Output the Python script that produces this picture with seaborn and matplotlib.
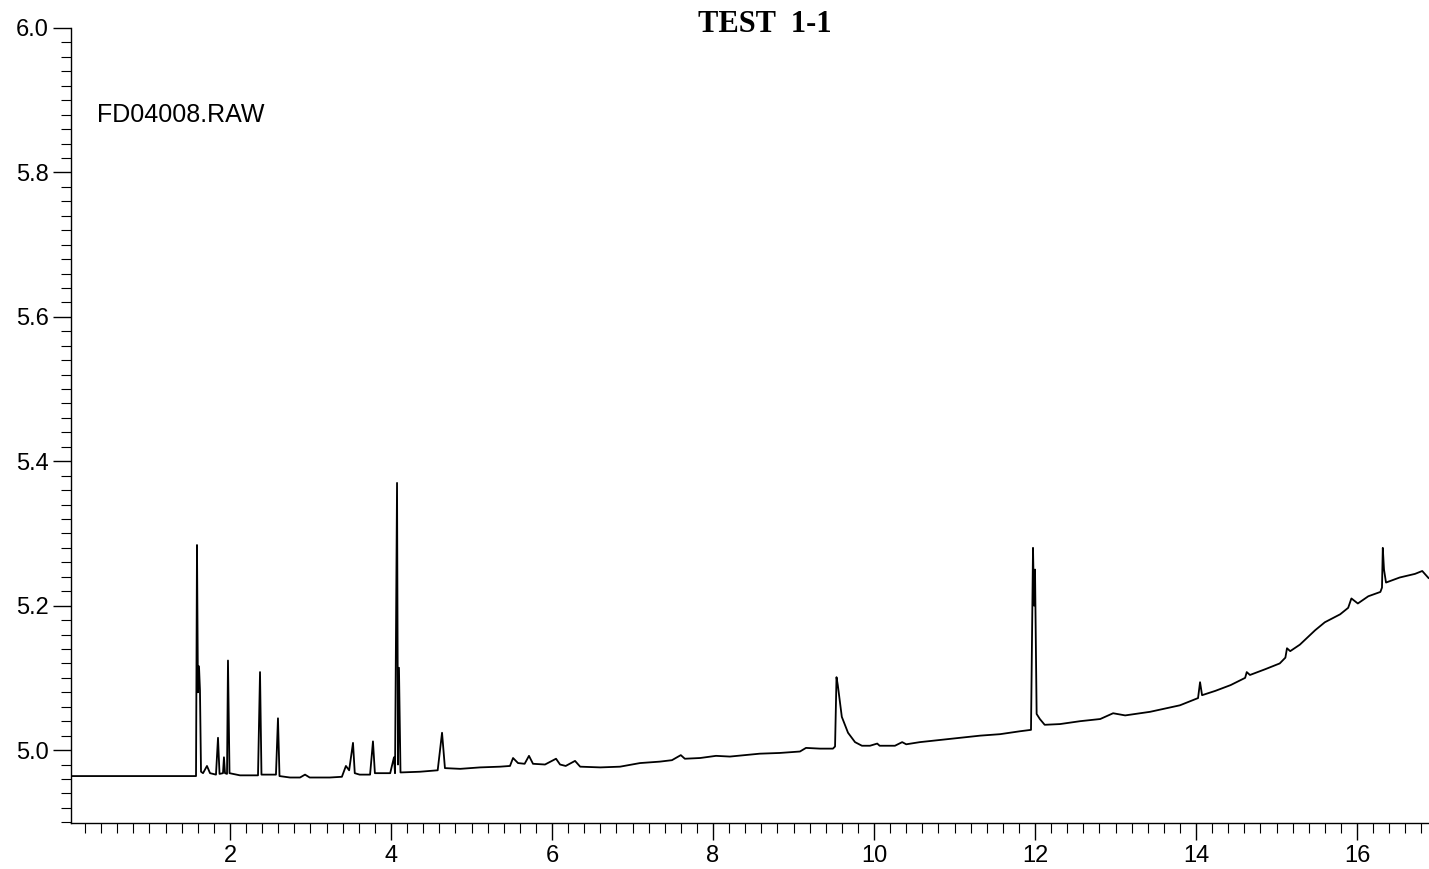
import matplotlib
matplotlib.use("Agg")
import matplotlib.pyplot as plt
from matplotlib.ticker import MultipleLocator, FixedLocator
import numpy as np
import pandas as pd
import seaborn as sns

# ---- data ----
retention_time = [
    0.04, 0.385, 1.006, 1.553, 1.578, 1.590, 1.602, 1.615, 1.627, 1.640, 1.665,
    1.714, 1.752, 1.826, 1.851, 1.870, 1.913, 1.925, 1.938, 1.963, 1.975, 1.994,
    2.124, 2.348, 2.373, 2.391, 2.571, 2.596, 2.615, 2.745, 2.870, 2.932, 2.990,
    3.240, 3.390, 3.440, 3.480, 3.528, 3.550, 3.610, 3.740, 3.776, 3.800, 3.990,
    4.037, 4.050, 4.075, 4.087, 4.099, 4.118, 4.360, 4.580, 4.634, 4.670, 4.860,
    5.106, 5.354, 5.478, 5.516, 5.578, 5.660, 5.714, 5.764, 5.913, 6.050, 6.100,
    6.170, 6.286, 6.350, 6.600, 6.845, 7.093, 7.340, 7.490, 7.600, 7.650, 7.840,
    8.037, 8.210, 8.400, 8.580, 8.830, 9.080, 9.155, 9.330, 9.490, 9.516, 9.534,
    9.550, 9.600, 9.677, 9.764, 9.850, 9.950, 10.040, 10.070, 10.260, 10.350,
    10.400, 10.570, 10.820, 11.070, 11.320, 11.565, 11.810, 11.950, 11.975,
    11.988, 12.000, 12.020, 12.060, 12.120, 12.310, 12.560, 12.810, 12.970,
    13.120, 13.430, 13.800, 14.025, 14.050, 14.075, 14.240, 14.430, 14.610,
    14.630, 14.670, 14.860, 15.040, 15.110, 15.130, 15.170, 15.290, 15.480,
    15.600, 15.790, 15.890, 15.930, 16.010, 16.140, 16.290, 16.310, 16.320,
    16.335, 16.360, 16.530, 16.720, 16.810, 16.890,
]
signal = [
    4.964, 4.964, 4.964, 4.964, 4.964, 5.284, 5.080, 5.116, 5.083, 4.970, 4.968,
    4.978, 4.968, 4.966, 5.017, 4.967, 4.968, 4.990, 4.968, 4.967, 5.124, 4.968,
    4.965, 4.965, 5.108, 4.966, 4.966, 5.044, 4.964, 4.962, 4.962, 4.966, 4.962,
    4.962, 4.963, 4.978, 4.972, 5.010, 4.968, 4.966, 4.966, 5.012, 4.968, 4.968,
    4.990, 4.968, 5.370, 4.980, 5.114, 4.969, 4.970, 4.972, 5.024, 4.975, 4.974,
    4.976, 4.977, 4.978, 4.989, 4.982, 4.981, 4.992, 4.981, 4.980, 4.988, 4.980,
    4.978, 4.985, 4.977, 4.976, 4.977, 4.982, 4.984, 4.986, 4.993, 4.988, 4.989,
    4.992, 4.991, 4.993, 4.995, 4.996, 4.998, 5.003, 5.002, 5.002, 5.005, 5.101,
    5.090, 5.046, 5.024, 5.011, 5.006, 5.006, 5.009, 5.006, 5.006, 5.011,
    5.008, 5.011, 5.014, 5.017, 5.020, 5.022, 5.026, 5.028, 5.280,
    5.200, 5.250, 5.050, 5.043, 5.035, 5.036, 5.040, 5.043, 5.051,
    5.048, 5.053, 5.062, 5.072, 5.094, 5.076, 5.082, 5.090, 5.100,
    5.108, 5.104, 5.112, 5.120, 5.128, 5.141, 5.137, 5.146, 5.166,
    5.177, 5.188, 5.197, 5.210, 5.203, 5.213, 5.219, 5.225, 5.280,
    5.250, 5.232, 5.239, 5.244, 5.248, 5.238,
]
x_tick_values = [2, 4, 6, 8, 10, 12, 14, 16]
x_tick_labels = ["2", "4", "6", "8", "10", "12", "14", "16"]
y_tick_values = [5.0, 5.2, 5.4, 5.6, 5.8, 6.0]
y_tick_labels = ["5.0", "5.2", "5.4", "5.6", "5.8", "6.0"]
title_text = "TEST  1-1"
file_label = "FD04008.RAW"

df = pd.DataFrame({"time": retention_time, "signal": signal})

sns.set_style("ticks")
plt.rcParams["font.family"] = ["Liberation Sans", "DejaVu Sans"]

fig = plt.figure(figsize=(14.29, 8.69), dpi=100)
ax = fig.add_axes([71 / 1429, 46 / 869, 1 - 71 / 1429, (823 - 28) / 869])

sns.lineplot(data=df, x="time", y="signal", ax=ax, color="black",
             linewidth=1.3, estimator=None, sort=False)

ax.set_xlim(0.025, 16.894)
ax.set_ylim(4.899, 6.0)

ax.xaxis.set_major_locator(FixedLocator(x_tick_values))
ax.set_xticklabels(x_tick_labels)
ax.xaxis.set_minor_locator(MultipleLocator(0.2))
ax.yaxis.set_major_locator(FixedLocator(y_tick_values))
ax.set_yticklabels(y_tick_labels)
ax.yaxis.set_minor_locator(MultipleLocator(0.02))

ax.tick_params(axis="both", which="major", direction="out", color="black",
               width=1.0, labelsize=17, labelcolor="black")
ax.tick_params(axis="x", which="major", length=12, pad=4)
ax.tick_params(axis="y", which="major", length=13, pad=3)
ax.tick_params(axis="both", which="minor", direction="out", color="black",
               width=0.8, length=7)

for side in ("top", "right"):
    ax.spines[side].set_visible(False)
for side in ("left", "bottom"):
    ax.spines[side].set_color("black")
    ax.spines[side].set_linewidth(1.0)

ax.set_xlabel("")
ax.set_ylabel("")
ax.grid(False)

ax.text(0.35, 5.880, file_label, ha="left", va="center", fontsize=18,
        color="black", family=["Liberation Sans", "DejaVu Sans"])

fig.text(765 / 1429, 1 - 25 / 869, title_text, ha="center", va="center",
         fontsize=22, fontweight="bold",
         family=["Liberation Serif", "DejaVu Serif"], color="black")

fig.savefig("out.png", dpi=100, facecolor="white")
